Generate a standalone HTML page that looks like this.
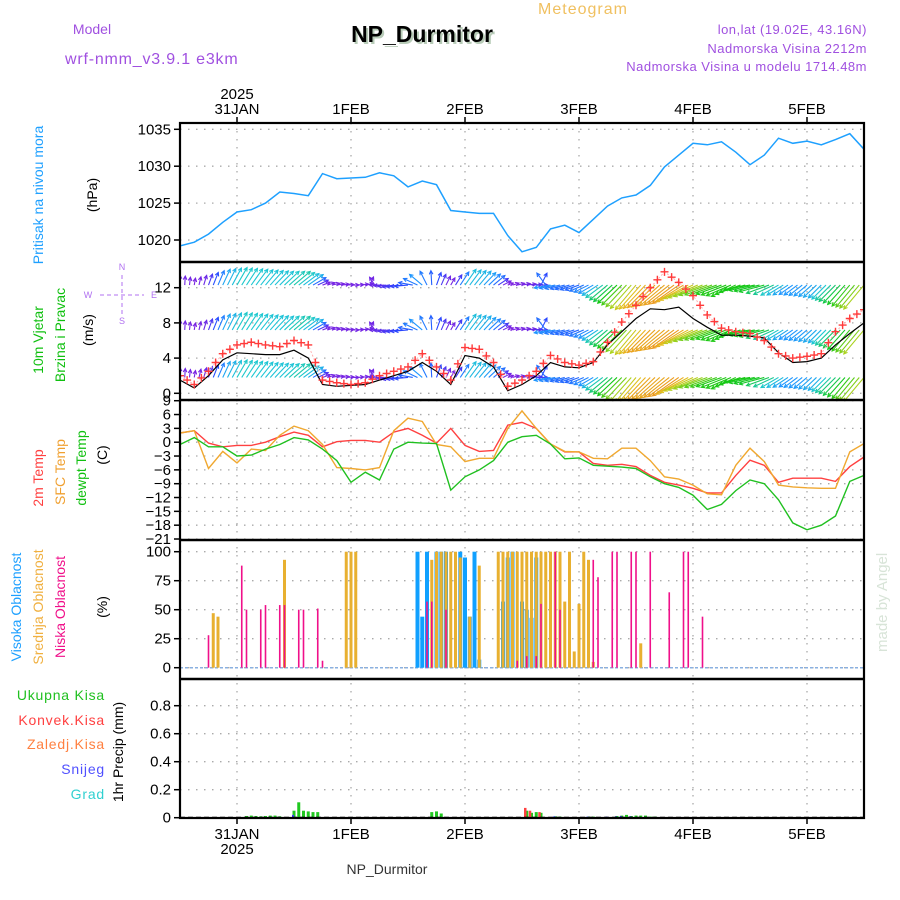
<!DOCTYPE html>
<html><head><meta charset="utf-8"><style>
body{margin:0;background:#fff;width:900px;height:900px;overflow:hidden}
svg{display:block}
text{font-family:"Liberation Sans",sans-serif}
</style></head><body>
<svg id="chart" width="900" height="900" viewBox="0 0 900 900">
<g id="labels">
<text x="583" y="14" fill="#f0c060" font-size="16" text-anchor="middle" letter-spacing="1">Meteogram</text>
<text x="92" y="34" fill="#a050e0" font-size="14" text-anchor="middle">Model</text>
<text x="65" y="64" fill="#a050e0" font-size="16" letter-spacing="0.8">wrf-nmm_v3.9.1 e3km</text>
<text x="424" y="44" fill="#b8ccb8" font-size="23" font-weight="bold" text-anchor="middle" font-family="Liberation Mono">NP_Durmitor</text>
<text x="422" y="42" fill="#000" font-size="23" font-weight="bold" text-anchor="middle" font-family="Liberation Mono">NP_Durmitor</text>
<text x="867" y="34" fill="#a050e0" font-size="13" text-anchor="end" letter-spacing="0.5">lon,lat (19.02E, 43.16N)</text>
<text x="867" y="53" fill="#a050e0" font-size="13" text-anchor="end" letter-spacing="0.5">Nadmorska Visina 2212m</text>
<text x="867" y="71" fill="#a050e0" font-size="13" text-anchor="end" letter-spacing="0.5">Nadmorska Visina u modelu 1714.48m</text>
<text x="237" y="99" font-size="15" text-anchor="middle">2025</text>
<text x="387" y="874" font-size="14" text-anchor="middle" fill="#333" font-family="Liberation Serif">NP_Durmitor</text>
<text x="237" y="854" font-size="15" text-anchor="middle">2025</text>
<text transform="translate(887,652) rotate(-90)" font-size="15" fill="#d8e4d8" font-family="Liberation Serif">made by Angel</text>
<text transform="translate(43,195) rotate(-90)" font-size="14" fill="#1ea0ff" text-anchor="middle">Pritisak na nivou mora</text>
<text transform="translate(97,195) rotate(-90)" font-size="14" text-anchor="middle">(hPa)</text>
<text transform="translate(43,340) rotate(-90)" font-size="14" fill="#10c010" text-anchor="middle">10m Vjetar</text>
<text transform="translate(65,335) rotate(-90)" font-size="14" fill="#10c010" text-anchor="middle">Brzina i Pravac</text>
<text transform="translate(93,330) rotate(-90)" font-size="14" text-anchor="middle">(m/s)</text>
<text transform="translate(43,478) rotate(-90)" font-size="14" fill="#ff4040" text-anchor="middle">2m Temp</text>
<text transform="translate(65,472) rotate(-90)" font-size="14" fill="#f0a030" text-anchor="middle">SFC Temp</text>
<text transform="translate(86,468) rotate(-90)" font-size="14" fill="#10c010" text-anchor="middle">dewpt Temp</text>
<text transform="translate(107,455) rotate(-90)" font-size="14" text-anchor="middle">(C)</text>
<text transform="translate(21,607) rotate(-90)" font-size="14" fill="#1ea0ff" text-anchor="middle">Visoka Oblacnost</text>
<text transform="translate(43,607) rotate(-90)" font-size="14" fill="#f0b040" text-anchor="middle">Srednja Oblacnost</text>
<text transform="translate(65,607) rotate(-90)" font-size="14" fill="#f0108a" text-anchor="middle">Niska Oblacnost</text>
<text transform="translate(107,607) rotate(-90)" font-size="14" text-anchor="middle">(%)</text>
<text x="105" y="700" font-size="14" fill="#20c020" text-anchor="end" letter-spacing="0.8">Ukupna Kisa</text>
<text x="105" y="725" font-size="14" fill="#ff4040" text-anchor="end" letter-spacing="0.8">Konvek.Kisa</text>
<text x="105" y="749" font-size="14" fill="#ff8040" text-anchor="end" letter-spacing="0.8">Zaledj.Kisa</text>
<text x="105" y="774" font-size="14" fill="#5050ff" text-anchor="end" letter-spacing="0.8">Snijeg</text>
<text x="105" y="799" font-size="14" fill="#30d0d0" text-anchor="end" letter-spacing="0.8">Grad</text>
<text transform="translate(123,752) rotate(-90)" font-size="14" text-anchor="middle">1hr Precip (mm)</text>
<g fill="#b070f0" font-size="9" stroke="none">
<text x="122" y="270" text-anchor="middle">N</text>
<text x="122" y="324" text-anchor="middle">S</text>
<text x="88" y="298" text-anchor="middle">W</text>
<text x="154" y="298" text-anchor="middle">E</text>
<line x1="122" y1="275" x2="122" y2="314" stroke="#b070f0" stroke-dasharray="4,3"/>
<line x1="100" y1="295" x2="144" y2="295" stroke="#b070f0" stroke-dasharray="4,3"/>
</g>
</g>
<g id="plot"></g>
</svg>
<script>
// ---- data ----
const dayLabels = ["31JAN","1FEB","2FEB","3FEB","4FEB","5FEB"];
const dayHours = [12,36,60,84,108,132];
const hourStep = 3; // series sampled every 3 hours from 30JAN 12Z
const pressure = [1019.2,1019.7,1020.8,1022.4,1023.8,1024.1,1025.0,1026.5,1026.3,1026.0,1029.0,1028.3,1028.4,1028.5,1029.1,1028.7,1027.2,1028.0,1027.5,1024.0,1023.8,1023.6,1023.6,1020.6,1018.4,1019.0,1021.5,1022.0,1021.0,1022.8,1024.6,1025.7,1026.1,1027.4,1029.9,1031.5,1033.1,1032.9,1033.3,1031.9,1030.2,1031.5,1033.8,1033.1,1033.4,1032.9,1033.6,1034.4,1032.3];
const windSpeed = [1.5,0.6,2.0,3.8,4.6,4.5,4.4,4.4,4.9,4.0,1.0,0.8,0.9,1.0,1.5,2.0,2.5,3.5,2.5,1.0,4.3,4.0,3.0,0.3,1.0,2.0,3.5,3.0,2.9,3.5,5.5,7.0,8.5,9.6,9.5,9.8,8.5,7.5,6.6,6.6,6.5,6.3,4.6,3.5,3.6,4.0,5.5,6.8,8.0];
const windGust = [2.0,1.0,2.5,4.5,5.5,5.8,5.5,5.3,6.0,5.5,1.5,1.2,1.0,1.2,2.0,2.5,3.0,4.5,3.0,1.5,5.2,5.0,3.5,0.8,1.5,2.5,4.3,3.5,3.2,3.6,5.8,8.1,10.0,12.0,13.8,12.6,11.1,8.9,7.4,7.0,6.8,6.0,4.5,4.0,4.2,4.5,7.0,8.5,9.5];
const windDir = [180,190,200,205,210,215,220,225,230,235,250,260,270,260,90,80,85,130,200,210,215,220,230,250,260,270,80,75,70,60,50,45,40,45,50,55,65,70,70,65,80,75,60,55,50,45,45,40,40];
const temp2m = [2.0,2.5,-0.2,-1.0,-0.7,-0.7,0,1.2,2.2,1.5,-1.0,0.1,0.4,0.4,0,2.2,3.0,1.5,-0.2,3.0,-0.7,-2.0,-1.8,3.7,4.3,3.0,-0.4,-2.1,-2.1,-4.6,-5.0,-4.8,-5.3,-7.2,-8.7,-9.3,-10,-11,-11,-7.2,-3.9,-5,-8.7,-7.8,-7.8,-7.8,-8.5,-5.3,-3.2];
const tempSfc = [2.0,2.5,-5.7,-2.0,-4.5,-1.5,-1.8,1.5,3.5,2.5,-0.5,-5.5,-5.7,-6.0,-5.5,2.5,5.2,4.5,-0.5,-1.0,-4.2,-3.5,-3.5,3.0,6.8,3.0,-0.4,-2.0,-2.1,-3.5,-3.6,-1.3,-1.3,-4.0,-7.5,-8.0,-9.3,-11.2,-11.4,-5.0,-1.3,-4.2,-9.3,-9.7,-9.9,-10,-10,-2.1,-0.3];
const tempDew = [-0.5,1.0,-1.0,-1.0,-3.0,-2.8,-1.5,-0.5,1.0,0.5,-1.5,-4.0,-8.7,-6.5,-8.2,-1.5,0,-0.2,-0.3,-10.4,-7.5,-6,-4.0,0,1.2,1.5,-0.4,-3.6,-3.4,-5.0,-5.2,-5.4,-5.7,-7.5,-9,-9.8,-11.5,-14.6,-13.5,-10.5,-8.2,-9.0,-12.5,-17.5,-19,-18,-16,-8.5,-7.2];
const cloudHighHours = [50,51,52,54,55,56,59,60,61,62,63,68,69,70,72,73,74,75];
const cloudHighVals = [100,44,100,100,100,100,100,95,44,100,7,57,95,100,57,50,43,95];
const cloudMidHours = [7,8,22,35,36,37,53,54,55,56,57,58,59,61,63,67,68,69,70,71,72,73,74,75,76,77,78,79,80,81,82,83,84,85,86,87,97];
const cloudMidVals = [47,44,93,100,100,100,93,100,100,100,100,100,95,44,88,100,100,100,100,100,100,100,100,100,100,100,100,100,100,57,100,14,55,100,93,5,21];
const cloudLowHours = [6,13,14,17,18,21,22,25,26,29,30,52,53,56,71,73,75,76,79,80,87,88,91,92,95,96,99,103,106,107,110];
const cloudLowVals = [28,88,50,50,54,54,54,50,50,51,6,57,57,50,6,10,10,55,100,50,93,78,100,100,100,100,100,65,100,100,44];
const rainHours = [14,15,16,17,18,19,20,21,23,24,25,26,27,28,29,52,53,54,55,73,74,75,76,79,80,86,87,90,92,93,94,95,96,97,98,99,100];
const rainVals = [0.012,0.015,0.012,0.01,0.012,0.015,0.015,0.01,0.005,0.05,0.11,0.05,0.045,0.04,0.04,0.005,0.04,0.045,0.03,0.05,0.035,0.04,0.035,0.01,0.008,0.008,0.008,0.005,0.012,0.015,0.02,0.012,0.015,0.015,0.015,0.008,0.008];
const convHours = [73,74,76];
const convVals = [0.07,0.05,0.04];
const snowHours = [24,79,86,90,92,93,95];
const snowVals = [0.02,0.01,0.008,0.008,0.01,0.012,0.01];
const pTicks = [1020,1025,1030,1035];
const wTicks = [0,4,8,12];
const tTicks = [-21,-18,-15,-12,-9,-6,-3,0,3,6,9];
const cTicks = [0,25,50,75,100];
const rTicks = [0,0.2,0.4,0.6,0.8];

// ---- axes ----
const X0=180,X1=864,H=144;
const xs=h=>X0+(h/H)*(X1-X0);
const yP=v=>240-(v-1020)*7.38;
const yW=v=>393.3-v*8.8;
const yT=v=>442.2-v*4.61;
const yC=v=>667.7-v*1.16;
const yR=v=>817.7-v*140;
const panels=[[123,262],[262,400],[400,540],[540,679],[679,818]];

const NS='http://www.w3.org/2000/svg';
const plot=document.getElementById('plot');
function mk(tag,attrs,parent){const e=document.createElementNS(NS,tag);for(const k in attrs)e.setAttribute(k,attrs[k]);(parent||plot).appendChild(e);return e;}

const defs=mk('defs',{});
panels.forEach((p,i)=>{const c=mk('clipPath',{id:'clip'+i},defs);mk('rect',{x:X0,y:p[0],width:X1-X0,height:p[1]-p[0]},c);});

const grid=mk('g',{stroke:'#aaa','stroke-width':1.3,'stroke-dasharray':'1.5,6.5'});


dayHours.forEach(h=>{mk('line',{x1:xs(h),x2:xs(h),y1:123,y2:818},grid);});
function hgrid(ticks,f,fmt,name){
  const g=mk('g',{});
  
  
  ticks.forEach(t=>{const y=f(t);
    mk('line',{x1:X0,x2:X1,y1:y,y2:y,stroke:'#aaa','stroke-width':1.3,'stroke-dasharray':'1.5,6.5'},g);
    mk('line',{x1:X0-6,x2:X0,y1:y,y2:y,stroke:'#000','stroke-width':1.5},g);
    const t2=mk('text',{x:X0-9,y:y+5,'font-size':15,'text-anchor':'end'},g);t2.textContent=fmt(t);
  });
}
hgrid(pTicks,yP,t=>t,'pressure-y-axis');
hgrid(wTicks,yW,t=>t,'wind-y-axis');
hgrid(tTicks,yT,t=>t<0?'\u2212'+(-t):t,'temp-y-axis');
hgrid(cTicks,yC,t=>t,'cloud-y-axis');
hgrid(rTicks,yR,t=>t===0?'0':t.toFixed(1),'precip-y-axis');

dayLabels.forEach((d,i)=>{const x=xs(dayHours[i]);
  mk('line',{x1:x,x2:x,y1:117,y2:123,stroke:'#000','stroke-width':1.5});
  mk('line',{x1:x,x2:x,y1:818,y2:824,stroke:'#000','stroke-width':1.5});
  const t=mk('text',{x:x,y:114,'font-size':15,'text-anchor':'middle'});t.textContent=d;
  
  
  const b=mk('text',{x:x,y:839,'font-size':15,'text-anchor':'middle'});b.textContent=d;
  
  
});

function linePath(arr,f){return arr.map((v,i)=>(i?'L':'M')+xs(i*hourStep).toFixed(1)+','+f(v).toFixed(1)).join('');}
function interp(arr,h){const i=h/hourStep,a=Math.floor(i),b=Math.min(arr.length-1,a+1),t=i-a;return arr[a]*(1-t)+arr[b]*t;}

const pl=mk('path',{d:linePath(pressure,yP),fill:'none',stroke:'#1ea0ff','stroke-width':1.5,'clip-path':'url(#clip0)'});



function spdColor(s){
  const stops=[[0,[128,32,224]],[1.5,[110,40,230]],[2.5,[40,70,255]],[3.5,[30,150,255]],[4.5,[30,200,210]],[6.5,[20,200,20]],[8,[170,210,30]],[9,[230,190,30]],[10.5,[240,120,30]]];
  if(s<=0)return 'rgb(128,32,224)';
  for(let i=1;i<stops.length;i++){if(s<=stops[i][0]){const a=stops[i-1],b=stops[i],t=(s-a[0])/(b[0]-a[0]);const c=a[1].map((v,k)=>Math.round(v+(b[1][k]-v)*t));return 'rgb('+c+')';}}
  return 'rgb(240,120,30)';
}
const wg=mk('g',{'clip-path':'url(#clip1)','stroke-width':1.1});


[12.3,7.2,1.8].forEach(base=>{
  for(let h=0;h<=H;h++){
    const s=interp(windSpeed,h), d=interp(windDir,h)+180, r=d*Math.PI/180;
    const L=Math.min(32,5+3.3*s);
    const x=xs(h),y=yW(base),x2=x+Math.sin(r)*L,y2=y-Math.cos(r)*L;
    const col=spdColor(s);
    mk('line',{x1:x,y1:y,x2:x2,y2:y2,stroke:col},wg);
    const a1=r+Math.PI*0.85,a2=r-Math.PI*0.85;
    mk('polyline',{points:`${x2+Math.sin(a1)*4},${y2-Math.cos(a1)*4} ${x2},${y2} ${x2+Math.sin(a2)*4},${y2-Math.cos(a2)*4}`,fill:'none',stroke:col},wg);
  }
});
const sl=mk('path',{d:linePath(windSpeed,yW),fill:'none',stroke:'#000','stroke-width':1.2,'clip-path':'url(#clip1)'});


const gl=mk('path',{d:linePath(windGust,yW),fill:'none',stroke:'#ffb0b0','stroke-width':1,'stroke-dasharray':'2,2','clip-path':'url(#clip1)'});


const gm=mk('g',{stroke:'#ff3a3a','stroke-width':1.4,'clip-path':'url(#clip1)'});


for(let h=0;h<=H;h+=1.5){const x=xs(h),y=yW(interp(windGust,h));
  mk('path',{d:`M${x-4},${y}h8M${x},${y-4}v8`},gm);}

[[temp2m,'#ff4040','temp-2m-line'],[tempSfc,'#f0a830','temp-sfc-line'],[tempDew,'#20c020','dewpoint-line']].forEach(([arr,c,n])=>{
  const p=mk('path',{d:linePath(arr,yT),fill:'none',stroke:c,'stroke-width':1.4,'clip-path':'url(#clip2)'});
  
  
});

function bars(hours,vals,f,w,col,clip,name,off){
  const g=mk('g',{fill:col,'clip-path':clip});
  
  
  hours.forEach((h,i)=>{const x=xs(h)+(off||0),y=f(vals[i]),y0=f(0);mk('rect',{x:x-w/2,y:y,width:w,height:y0-y},g);});
}
mk('line',{x1:X0,x2:X1,y1:yC(0),y2:yC(0),stroke:'#8ab0e0','stroke-width':1.5,'stroke-dasharray':'3,2'});
bars(cloudHighHours,cloudHighVals,yC,4,'#10a0ff','url(#clip3)','high-cloud-bars',0);
bars(cloudMidHours,cloudMidVals,yC,3,'#e8b030','url(#clip3)','mid-cloud-bars',0);
bars(cloudLowHours,cloudLowVals,yC,1.6,'#f0108a','url(#clip3)','low-cloud-bars',0);

bars(rainHours,rainVals,yR,3,'#20c820','url(#clip4)','total-rain-bars',0);
bars(convHours,convVals,yR,2.5,'#ff4040','url(#clip4)','convective-rain-bars',-1.5);
bars(snowHours,snowVals,yR,2,'#4040ff','url(#clip4)','snow-bars',-1);
mk('line',{x1:X0,x2:X1,y1:yR(0),y2:yR(0),stroke:'#000','stroke-width':2,'stroke-dasharray':'5,3'});

const fr=mk('g',{stroke:'#000','stroke-width':2.2,fill:'none'});


mk('rect',{x:X0,y:123,width:X1-X0,height:695},fr);
[262,400,540,679].forEach(y=>mk('line',{x1:X0,x2:X1,y1:y,y2:y,'stroke-width':2.6},fr));
</script>
</body></html>
